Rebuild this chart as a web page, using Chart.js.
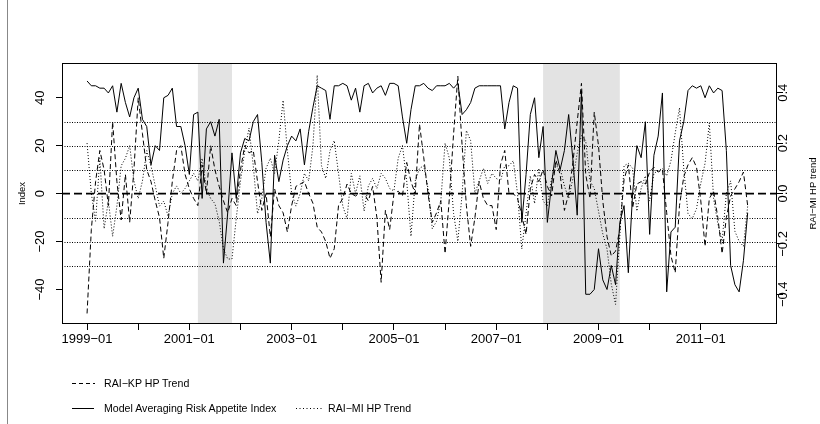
<!DOCTYPE html>
<html>
<head>
<meta charset="utf-8">
<script src="https://cdn.jsdelivr.net/npm/chart.js@4.4.1/dist/chart.umd.min.js"></script>
<style>
  html, body { margin: 0; padding: 0; background: #fff; }
  #wrap { position: relative; width: 820px; height: 424px; overflow: hidden; }
  #chart { position: absolute; left: 0; top: 0; }
  #frame { position: absolute; left: 7px; top: 0; width: 1px; height: 424px; background: #888; }
  .lg { position: absolute; font: 10.6px 'Liberation Sans', Arial, sans-serif; color: #000;
        line-height: 12px; white-space: nowrap; }
  .lg svg { position: absolute; }
</style>
</head>
<body>
<div id="wrap">
  <canvas id="chart" width="820" height="424"></canvas>
  <div id="frame"></div>

  <!-- legend, row 1 -->
  <svg class="lg" style="left:72px;top:377px" width="26" height="12">
    <line x1="0" y1="6.5" x2="23" y2="6.5" stroke="#000" stroke-width="1" stroke-dasharray="4,3"/>
  </svg>
  <div class="lg" style="left:104px;top:377px">RAI−KP HP Trend</div>

  <!-- legend, row 2 -->
  <svg class="lg" style="left:72px;top:402px" width="26" height="12">
    <line x1="0" y1="6.5" x2="22" y2="6.5" stroke="#000" stroke-width="1"/>
  </svg>
  <div class="lg" style="left:104px;top:402px">Model Averaging Risk Appetite Index</div>
  <svg class="lg" style="left:296px;top:402px" width="28" height="12">
    <line x1="0" y1="6.5" x2="26" y2="6.5" stroke="#000" stroke-width="1" stroke-dasharray="1,2.5"/>
  </svg>
  <div class="lg" style="left:328px;top:402px">RAI−MI HP Trend</div>
</div>

<script>
'use strict';

// ── Data (monthly, 1999-01 .. 2011-12) ─────────────────────
const months = [];
for (let y = 1999; y <= 2011; y++) {
  for (let m = 1; m <= 12; m++) months.push(`${y}-${String(m).padStart(2, '0')}`);
}

// Model Averaging Risk Appetite Index (left axis)
const maIndex = [
  47, 45, 45, 44, 44, 42, 45, 34, 46, 38, 32, 40, 44, 31, 28, 12, 20, 18, 40, 41, 44, 28, 28, 20, 8, 33,
  34, -2, 27, 30, 24, 31, -29, -8, 17, -2, 17, 23, 22, 30, 33, 13, -12, -29, 16, 5, 14, 20, 24, 22, 27, 12,
  26, 36, 45, 44, 43, 31, 45, 45, 46, 45, 39, 44, 34, 45, 46, 42, 44, 45, 41, 46, 46, 45, 32, 21, 35,
  45, 45, 46, 44, 43, 45, 45, 45, 46, 44, 46, 33, 35, 38, 44, 45, 45, 45, 45, 45, 45, 27, 38, 45, 44,
  -12, 8, 33, 40, 15, 28, -12, 4, 18, 10, 18, 33, 14, -9, 43, -42, -42, -40, -23, -36, -40, -30, -38, -12, -5, -33,
  0, 20, 15, 30, -17, 16, 24, 42, -41, -16, -14, 22, 30, 43, 45, 44, 45, 40, 45, 42, 44, 43, 18, -30, -38, -41, -28, -8
];

// RAI-KP HP Trend (left axis)
const kpTrend = [
  -50, -15, 5, 18, 10, -5, 30, 5, -11, 8, -12, 10, 40, 25, 10, 5, -3, -10, -27, -12, 5, 18, 20, 8, 2, -2,
  -5, 12, 0, 20, 10, 3, -3, -8, -2, -5, 10, 20, 17, 18, 5, -7, 0, -18, 2, -5, -8, -16, -5, 3, 4, 5,
  0, -4, -14, -16, -20, -27, -23, -5, -2, 4, 0, -1, 0, 0, -3, 3, -10, -37, -7, -15, 0, 1, -1, 13, 5,
  0, 29, 15, 0, -12, -8, -3, -25, -2, 25, 49, 20, -5, -22, -10, 5, -2, -5, -5, -15, 12, 18, 0, 0, -2, -9,
  -17, 2, 8, 5, 10, 3, -1, 14, 8, -7, 0, 13, 30, 46, 8, -2, 34, 20, -3, -18, -26, -24, -15, 6, 12, -6,
  4, 5, 4, 9, 11, 9, 10, -8, -26, -33, -5, 7, 12, 15, 11, -3, -22, -2, 1, -10, -25, -10, -1, 2, 5, 9, -5
];

// RAI-MI HP Trend (right axis)
const miTrend = [
  0.20, 0, -0.11, 0.14, -0.14, -0.03, -0.17, -0.05, 0.11, 0.14, 0.19, 0.05, -0.02, 0.05, 0.17, 0.11, 0.03, -0.05, -0.03, -0.09, 0, 0.03, 0, 0.02, 0.05, 0.08,
  0.05, 0.14, 0.02, -0.02, -0.04, -0.11, -0.22, -0.26, -0.26, -0.10, 0.05, 0.17, 0.26, 0.11, -0.08, -0.02, 0.10, 0.14, 0.08, 0.21, 0.37, 0.17, 0, -0.05, 0, 0.08,
  0.05, 0.19, 0.47, 0.11, 0.06, 0.17, 0.21, 0.08, -0.05, -0.10, 0.08, 0, 0.07, -0.07, 0.03, 0.06, 0.02, 0.08, 0.06, 0.02, 0.01, 0.14, 0.19, 0.05, -0.17,
  0.05, 0.10, 0.11, 0.02, -0.14, -0.11, -0.03, 0.20, 0.14, -0.08, -0.19, 0, 0.25, 0.21, 0, 0.05, 0.10, 0.04, 0.08, 0.06, 0.05, 0.11, 0.11, 0.13, 0, -0.22,
  -0.08, 0.07, -0.04, 0.10, -0.03, -0.05, 0.06, 0.11, 0.10, 0.03, -0.02, 0.06, 0.16, 0.23, 0.21, 0.05, 0.02, -0.07, -0.16, -0.22, -0.36, -0.44, -0.17, 0.11, 0.12, 0.10,
  -0.07, 0.02, 0.07, -0.03, 0.08, 0.09, 0.10, 0.07, 0.13, 0.24, 0.34, 0.10, -0.08, -0.10, -0.06, 0.04, 0.12, 0.28, -0.02, -0.12, -0.19, 0, 0.05, -0.15, -0.19, -0.21, -0.05
];

const yearTicks  = [1999, 2000, 2001, 2002, 2003, 2004, 2005, 2006, 2007, 2008, 2009, 2010, 2011];
const leftTicks  = [-40, -20, 0, 20, 40];
const rightTicks = [-0.4, -0.2, 0, 0.2, 0.4];
const refLevels  = [-30, -20, -10, 10, 20, 30];
const recessions = [['2001-03', '2001-11'], ['2007-12', '2009-06']];

// ── helpers ────────────────────────────────────────────────
const toYear = s => { const [y, m] = s.split('-').map(Number); return y + (m - 1) / 12; };
const minus = s => String(s).replace('-', '\u2212');
const FONT = "'Liberation Sans', Arial, Helvetica, sans-serif";

Chart.defaults.font.family = FONT;
Chart.defaults.color = '#000';

// shading, reference lines, plot box and axis titles
const decor = {
  id: 'decor',
  beforeDatasetsDraw(chart) {
    const { ctx, chartArea: a, scales: { x, yL } } = chart;
    ctx.save();
    ctx.fillStyle = '#e3e3e3';
    recessions.forEach(([s, e]) => {
      const x0 = x.getPixelForValue(toYear(s));
      const x1 = x.getPixelForValue(toYear(e));
      ctx.fillRect(x0, a.top, x1 - x0, a.bottom - a.top);
    });

    ctx.strokeStyle = '#000';
    ctx.lineWidth = 1;
    ctx.setLineDash([1, 1.5]);
    refLevels.forEach(v => {
      const y = Math.round(yL.getPixelForValue(v)) + 0.5;
      ctx.beginPath(); ctx.moveTo(a.left, y); ctx.lineTo(a.right, y); ctx.stroke();
    });

    ctx.lineWidth = 1.6;
    ctx.setLineDash([8, 4]);
    const y0 = yL.getPixelForValue(0);
    ctx.beginPath(); ctx.moveTo(a.left, y0); ctx.lineTo(a.right, y0); ctx.stroke();
    ctx.restore();
  },
  afterDraw(chart) {
    const { ctx, chartArea: a } = chart;
    ctx.save();
    ctx.strokeStyle = '#000';
    ctx.lineWidth = 1;
    ctx.strokeRect(a.left + 0.5, a.top + 0.5, a.right - a.left - 1, a.bottom - a.top - 1);

    const midY = (a.top + a.bottom) / 2;
    ctx.fillStyle = '#000';
    ctx.font = `9.5px ${FONT}`;
    ctx.textAlign = 'center';
    ctx.textBaseline = 'middle';
    [['Index', 22], ['RAI\u2212MI HP trend', 813]].forEach(([t, cx]) => {
      ctx.save();
      ctx.translate(cx, midY);
      ctx.rotate(-Math.PI / 2);
      ctx.fillText(t, 0, 0);
      ctx.restore();
    });
    ctx.restore();
  }
};

const line = (label, data, axis, dash) => ({
  label, data, yAxisID: axis,
  borderColor: '#000',
  borderWidth: 1,
  borderDash: dash,
  pointRadius: 0,
  tension: 0,
  fill: false,
});

const tickGrid = { drawOnChartArea: false, drawTicks: true, tickLength: 6, color: '#000', lineWidth: 1 };

new Chart(document.getElementById('chart'), {
  type: 'line',
  data: {
    labels: months.map(toYear),
    datasets: [
      line('Model Averaging Risk Appetite Index', maIndex, 'yL', []),
      line('RAI-KP HP Trend', kpTrend, 'yL', [5, 3]),
      line('RAI-MI HP Trend', miTrend, 'yR', [1, 2]),
    ]
  },
  options: {
    responsive: false,
    devicePixelRatio: 1,
    animation: false,
    events: [],
    layout: { padding: { top: 63, left: 0, right: 0, bottom: 0 } },
    plugins: { legend: { display: false }, tooltip: { enabled: false } },
    scales: {
      x: {
        type: 'linear',
        min: 1998.51,
        max: 2012.49,
        afterBuildTicks: s => { s.ticks = yearTicks.map(v => ({ value: v })); },
        afterFit: s => { s.height = 100; },
        grid: tickGrid,
        border: { display: false },
        ticks: {
          autoSkip: false, minRotation: 0, maxRotation: 0, padding: 2,
          font: { size: 13 },
          callback: v => (v % 2 === 1 ? `${v}\u221201` : '')
        }
      },
      yL: {
        position: 'left',
        min: -54.4,
        max: 54.5,
        afterBuildTicks: s => { s.ticks = leftTicks.map(v => ({ value: v })); },
        afterFit: s => { s.width = 62; },
        grid: tickGrid,
        border: { display: false },
        ticks: {
          minRotation: 90, maxRotation: 90, crossAlign: 'center', padding: 5,
          font: { size: 13 },
          callback: v => minus(v)
        }
      },
      yR: {
        position: 'right',
        min: -0.518,
        max: 0.518,
        afterBuildTicks: s => { s.ticks = rightTicks.map(v => ({ value: v })); },
        afterFit: s => { s.width = 43; },
        grid: tickGrid,
        border: { display: false },
        ticks: {
          minRotation: 90, maxRotation: 90, crossAlign: 'center', padding: -12.8,
          font: { size: 13 },
          callback: v => minus(v.toFixed(1))
        }
      }
    }
  },
  plugins: [decor]
});
</script>
</body>
</html>
